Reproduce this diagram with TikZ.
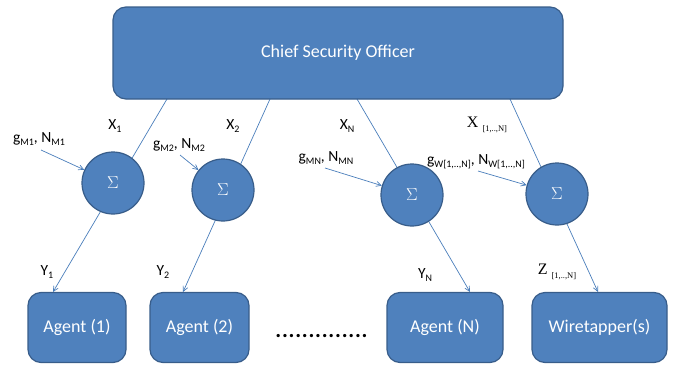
\documentclass[tikz,border=0pt]{standalone}
\usepackage{fontspec}
\setmainfont{Carlito}
\newfontfamily\tms{Liberation Serif}
\usetikzlibrary{arrows.meta,backgrounds}
\definecolor{boxfill}{HTML}{4F81BD}
\definecolor{boxedge}{HTML}{385D8A}
\definecolor{linkc}{HTML}{4A7EBB}
\newcommand\lsb[1]{\raisebox{-0.45ex}{\fontsize{10}{10}\selectfont #1}}
\newcommand\tsb[1]{\raisebox{-0.45ex}{\fontsize{8.5}{8.5}\selectfont #1}}
\tikzset{
  boxnode/.style={draw=boxedge, line width=1.2pt, fill=boxfill, rounded corners=13pt,
    text=white, font=\fontsize{18}{20}\selectfont, inner sep=0pt},
  sumnode/.style={circle, draw=boxedge, line width=1.2pt, fill=boxfill, minimum size=62pt,
    inner sep=0pt, text=white, font=\tms\fontsize{17}{17}\selectfont},
  link/.style={draw=linkc, line width=0.7pt, -{Straight Barb[length=5pt,width=5pt]}},
  lab/.style={inner sep=0pt, font=\fontsize{15.5}{16}\selectfont}
}
\begin{document}
\begin{tikzpicture}[x=1pt,y=-1pt]
\useasboundingbox (0,0) rectangle (674,364);
% boxes
\node[boxnode, minimum width=450pt, minimum height=92pt] (cso) at (338,53) {Chief Security Officer};
\node[boxnode, minimum width=98pt, minimum height=70pt] (a1) at (77,327.5) {Agent (1)};
\node[boxnode, minimum width=99pt, minimum height=70pt] (a2) at (199.5,327.5) {Agent (2)};
\node[boxnode, minimum width=116pt, minimum height=70pt] (an) at (445,327.5) {Agent (N)};
\node[boxnode, minimum width=135pt, minimum height=70pt] (w) at (599.5,327.5) {Wiretapper(s)};
% sum nodes
\node[sumnode] (c1) at (113,183) {$\Sigma$};
\node[sumnode] (c2) at (223,190) {$\Sigma$};
\node[sumnode] (c3) at (412,195) {$\Sigma$};
\node[sumnode] (c4) at (557,194) {$\Sigma$};
% dots
\node[inner sep=0pt, font=\bfseries\fontsize{22}{22}\selectfont] (dots) at (321.5,336)
  {\makebox[93pt]{\xleaders\hbox to 6.6pt{\hss.\hss}\hfill}};
% coordinates
\coordinate (t1) at (167,99);
\coordinate (t2) at (270,99);
\coordinate (t3) at (357,99);
\coordinate (t4) at (510,99);
\coordinate (e1) at (53,292);
\coordinate (e2) at (183,292);
\coordinate (e3) at (470,292);
\coordinate (e4) at (598,292);
\coordinate (s1) at (41,150);
\coordinate (s2) at (180,155);
\coordinate (s3) at (325,168);
\coordinate (s4) at (478,171);
\begin{scope}[on background layer]
\draw[link] (t1) -- (e1);
\draw[link] (t2) -- (e2);
\draw[link] (t3) -- (e3);
\draw[link] (t4) -- (e4);
\end{scope}
\draw[link] (s1) -- (c1);
\draw[link] (s2) -- (c2);
\draw[link] (s3) -- (c3);
\draw[link] (s4) -- (c4);
% labels
\node[lab] (x1) at (115,126) {X\lsb{1}};
\node[lab] (x2) at (233,126) {X\lsb{2}};
\node[lab] (xn) at (347,126) {X\lsb{N}};
\node[lab, font=\tms\fontsize{16}{16}\selectfont] (xw) at (487,125) {X \tsb{[1,..,N]}};
\node[lab] (g1) at (39,139) {g\lsb{M1}, N\lsb{M1}};
\node[lab] (g2) at (179,145) {g\lsb{M2}, N\lsb{M2}};
\node[lab] (gn) at (326,158) {g\lsb{MN}, N\lsb{MN}};
\node[lab] (gw) at (476,162) {g\lsb{W[1,..,N]}, N\lsb{W[1,..,N]}};
\node[lab] (y1) at (47,272) {Y\lsb{1}};
\node[lab] (y2) at (163,272) {Y\lsb{2}};
\node[lab] (yn) at (425,275) {Y\lsb{N}};
\node[lab, font=\tms\fontsize{16}{16}\selectfont] (z) at (557,272) {Z \tsb{[1,..,N]}};
\end{tikzpicture}
\end{document}
